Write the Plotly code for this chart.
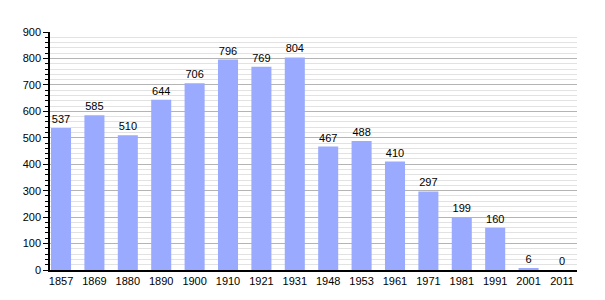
import plotly.graph_objects as go

years = ["1857", "1869", "1880", "1890", "1900", "1910", "1921", "1931",
         "1948", "1953", "1961", "1971", "1981", "1991", "2001", "2011"]
population = [537, 585, 510, 644, 706, 796, 769, 804, 467, 488, 410, 297, 199, 160, 6, 0]

fig = go.Figure()
fig.add_trace(go.Bar(
    x=list(range(len(years))),
    y=population,
    text=[str(v) for v in population],
    textposition="outside",
    cliponaxis=False,
    textfont=dict(family="Liberation Sans, Arial, sans-serif", size=11, color="#000000"),
    marker=dict(color="#99aaff", line=dict(width=0)),
    width=0.6,
))

fig.update_layout(
    width=605, height=300,
    margin=dict(l=50, r=28, t=32, b=30),
    paper_bgcolor="white", plot_bgcolor="white",
    showlegend=False,
    font=dict(family="Liberation Sans, Arial, sans-serif", size=11, color="#000000"),
    xaxis=dict(
        tickmode="array",
        tickvals=list(range(len(years))),
        ticktext=years,
        range=[-0.33, 15.45],
        showgrid=False,
        showline=True, linecolor="#000000", linewidth=1.5,
        ticks="", zeroline=False,
    ),
    yaxis=dict(
        range=[0, 900],
        dtick=100,
        showgrid=True, gridcolor="#b4b4b4", gridwidth=1,
        showline=True, linecolor="#000000", linewidth=1.5,
        ticks="outside", ticklen=5, tickcolor="#000000",
        zeroline=False,
        minor=dict(dtick=20, showgrid=True, gridcolor="#e2e2e2", gridwidth=1,
                   ticks="outside", ticklen=3, tickcolor="#000000"),
    ),
)

fig.write_html("out.html")
